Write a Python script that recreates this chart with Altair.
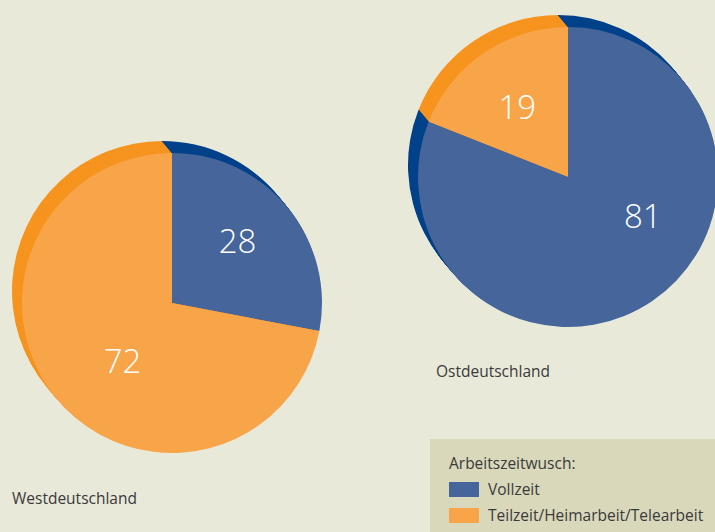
import altair as alt
import pandas as pd

# ---- data ----
categories = ["Vollzeit", "Teilzeit/Heimarbeit/Telearbeit"]
regions = ["Westdeutschland", "Ostdeutschland"]
west_values = [28, 72]
east_values = [81, 19]

rows = []
for reg, vals in zip(regions, [west_values, east_values]):
    for i, (c, v) in enumerate(zip(categories, vals)):
        rows.append({"region": reg, "category": c, "value": v, "order": i})
df = pd.DataFrame(rows)

# ---- style ----
BG = "#e9e9da"
LEGEND_BG = "#d9d8bb"
MAIN = ["#45659b", "#f8a449"]
SHADOW = ["#00428a", "#f6941f"]
FONT = "Open Sans"
TXT = "#3a3a3a"
R = 150
centers = {"Westdeutschland": (172, 303), "Ostdeutschland": (568, 177)}
depth = 12
# label nudges (dx, dy) relative to slice middle
nudge = {
    ("Westdeutschland", "Vollzeit"): (0, -6),
    ("Westdeutschland", "Teilzeit/Heimarbeit/Telearbeit"): (16, 6),
    ("Ostdeutschland", "Vollzeit"): (27, -29),
    ("Ostdeutschland", "Teilzeit/Heimarbeit/Telearbeit"): (-3, 2),
}

base = alt.Chart(df)
layers = []

# legend background box
layers.append(
    alt.Chart(pd.DataFrame({"a": [0]})).mark_rect(color=LEGEND_BG).encode(
        x=alt.value(430), x2=alt.value(715), y=alt.value(439), y2=alt.value(532)
    )
)

theta_scale = alt.Scale(domain=[0, 100])

for reg in regions:
    cx, cy = centers[reg]
    sub = base.transform_filter(alt.datum.region == reg)
    # extruded shadow
    for k in range(depth, 0, -1):
        layers.append(
            sub.mark_arc(radius=R).encode(
                theta=alt.Theta("value:Q", stack=True, scale=theta_scale),
                order=alt.Order("order:Q"),
                color=alt.condition(
                    alt.datum.category == categories[0],
                    alt.value(SHADOW[0]),
                    alt.value(SHADOW[1]),
                ),
                x=alt.value(cx - k * 10 / depth),
                y=alt.value(cy - k),
            )
        )
    # main pie
    layers.append(
        sub.mark_arc(radius=R).encode(
            theta=alt.Theta("value:Q", stack=True, scale=theta_scale),
            order=alt.Order("order:Q"),
            color=alt.Color(
                "category:N",
                scale=alt.Scale(domain=categories, range=MAIN),
                legend=alt.Legend(
                    title="Arbeitszeitwusch:",
                    orient="none",
                    legendX=449,
                    legendY=457,
                    titleFont=FONT,
                    titleFontSize=15.5,
                    titleFontWeight="normal",
                    titleColor=TXT,
                    titlePadding=2,
                    labelFont=FONT,
                    labelFontSize=15.5,
                    labelColor=TXT,
                    labelLimit=0,
                    symbolType="M-1,-0.5H1V0.5H-1Z",
                    symbolSize=900,
                    symbolStrokeWidth=0,
                    symbolOpacity=1,
                    labelOffset=9,
                    rowPadding=2,
                    padding=0,
                ),
            ),
            x=alt.value(cx),
            y=alt.value(cy),
        )
    )
    # value labels (midpoint of each slice, then filtered per slice)
    stacked = sub.transform_window(
        cum="sum(value)", sort=[alt.SortField("order")], frame=[None, 0]
    ).transform_calculate(mid="datum.cum - datum.value / 2")
    for c in categories:
        dx, dy = nudge[(reg, c)]
        layers.append(
            stacked.transform_filter(alt.datum.category == c)
            .mark_text(radius=85, fontSize=33, font=FONT, fontWeight=300,
                       color="white", dx=dx, dy=dy)
            .encode(
                theta=alt.Theta("mid:Q", stack=None, scale=theta_scale),
                text=alt.Text("value:Q"),
                x=alt.value(cx),
                y=alt.value(cy),
            )
        )

# region captions
cap = pd.DataFrame({"region": regions})
layers.append(
    alt.Chart(cap).transform_filter(alt.datum.region == regions[0]).mark_text(
        align="left", baseline="middle", fontSize=15.5, font=FONT, color=TXT
    ).encode(text="region:N", x=alt.value(12), y=alt.value(499))
)
layers.append(
    alt.Chart(cap).transform_filter(alt.datum.region == regions[1]).mark_text(
        align="left", baseline="middle", fontSize=15.5, font=FONT, color=TXT
    ).encode(text="region:N", x=alt.value(436), y=alt.value(372))
)

chart = (
    alt.layer(*layers)
    .properties(width=715, height=532, background=BG, padding=0, autosize="none")
    .configure_view(stroke=None)
)

chart.save("out.html", embed_options={"renderer": "svg", "actions": False})
